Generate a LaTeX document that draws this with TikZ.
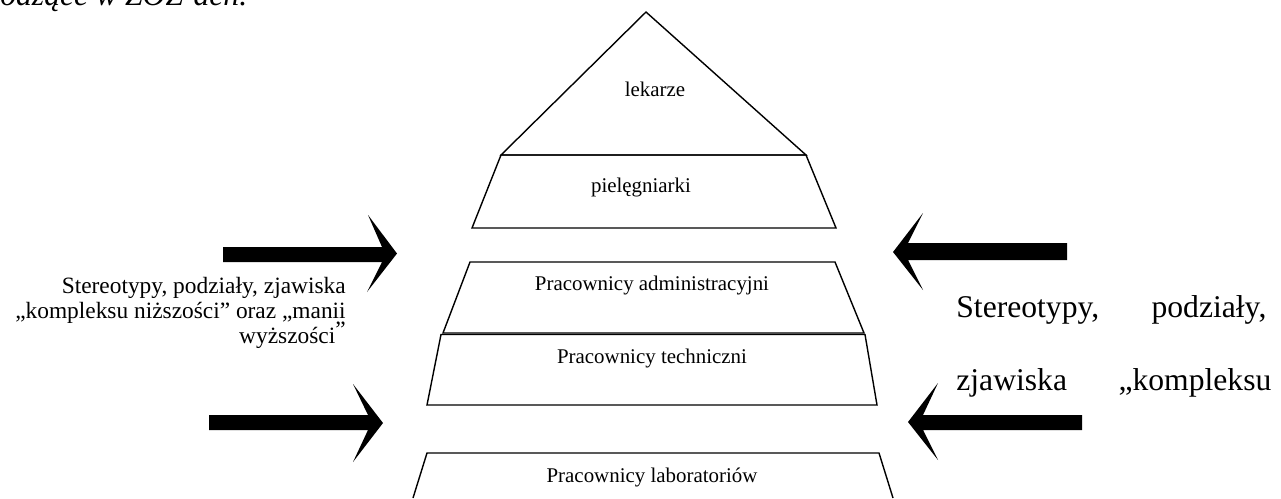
\documentclass[tikz,border=0pt]{standalone}
\usepackage{fontspec}
\setmainfont{Liberation Serif}
\tikzset{
  layer/.style={draw, line width=0.8pt},
  bigarrow/.style={fill=black},
  lbl/.style={inner sep=0pt, anchor=base, font=\fontsize{11.9}{14}\selectfont},
  side/.style={inner sep=0pt, anchor=base east, font=\fontsize{13.3}{15}\selectfont},
  body/.style={inner sep=0pt, anchor=base west, font=\fontsize{18}{22}\selectfont},
}
\begin{document}
\begin{tikzpicture}[x=0.2mm, y=-0.2mm]
    \useasboundingbox (0,0) rectangle (1281,498);
    % tail of the text above
    \node[body, font=\fontsize{18}{22}\selectfont\itshape] (prev) at (-58,5) {zachodzące w ZOZ-ach.};
    % pyramid
    \draw[layer] (646,12) -- (501,155) -- (806,155) -- cycle;
    \node[lbl] (lekarze) at (655,96) {lekarze};
    \draw[layer] (501,155) -- (806,155) -- (836,228) -- (472,228) -- cycle;
    \node[lbl] (piel) at (641,192) {pielęgniarki};
    \draw[layer] (470,262) -- (835,262) -- (864,333) -- (443,333) -- cycle;
    \node[lbl] (admin) at (652,290) {Pracownicy administracyjni};
    \draw[layer] (441,334.5) -- (865,334.5) -- (877,405) -- (427,405) -- cycle;
    \node[lbl] (tech) at (652,363) {Pracownicy techniczni};
    \draw[layer] (413,498) -- (427,453) -- (879,453) -- (893,498);
    \node[lbl] (lab) at (652,482) {Pracownicy laboratoriów};
    % arrows from the left
    \fill[bigarrow] (223,247) -- (382,247) -- (368,215) -- (397,253.5) -- (367,292) -- (382,262) -- (223,262) -- cycle;
    \fill[bigarrow] (209,415) -- (368,415) -- (353,384) -- (383,423) -- (353,462) -- (368,430) -- (209,430) -- cycle;
    % arrows from the right
    \fill[bigarrow] (1067,243) -- (908,243) -- (923,213) -- (893,252) -- (923,290) -- (908,260) -- (1067,260) -- cycle;
    \fill[bigarrow] (1082,415) -- (923,415) -- (938,383) -- (908,422) -- (938,460) -- (923,430) -- (1082,430) -- cycle;
    % left text
    \node[side] (l1) at (346,293) {Stereotypy, podziały, zjawiska};
    \node[side] (l2) at (346,318) {„kompleksu niższości” oraz „manii};
    \node[side] (l3) at (346,343) {wyższości\raisebox{0.25em}{”}};
    % right text
    \node[body] (r1) at (956,317) {\makebox[62mm]{Stereotypy,\hfill podziały,}};
    \node[body] (r2) at (956,390) {\makebox[63mm]{zjawiska\hfill „kompleksu}};
\end{tikzpicture}
\end{document}
